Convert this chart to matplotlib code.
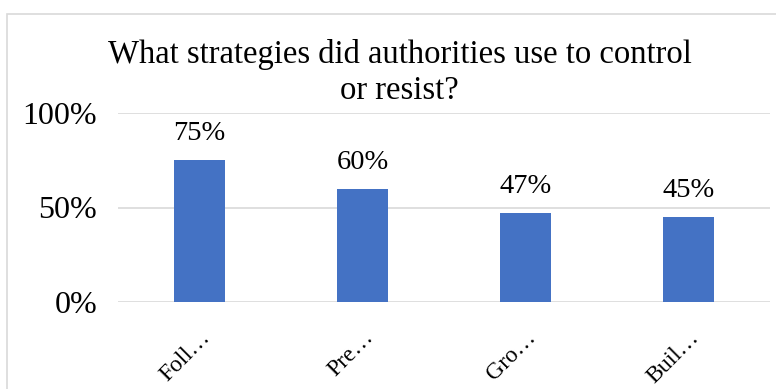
import matplotlib
matplotlib.use('Agg')
import matplotlib.pyplot as plt
from matplotlib.patches import Rectangle
from matplotlib.ticker import FuncFormatter

categories = ['Foll…', 'Pre…', 'Gro…', 'Buil…']
values = [0.75, 0.60, 0.47, 0.45]
value_labels = ['75%', '60%', '47%', '45%']
yticks = [0, 0.5, 1.0]

plt.rcParams['font.family'] = ['Liberation Serif', 'DejaVu Serif']

fig = plt.figure(figsize=(7.76, 3.89), dpi=100)
ax = fig.add_axes([118 / 776, 1 - 302 / 389, (770 - 118) / 776, (302 - 113) / 389])

# chart border (outer frame, cut off on right and bottom)
fig.patches.append(Rectangle((7 / 776, -0.1), 1.2, 1 - 14 / 389 + 0.1,
                             transform=fig.transFigure, fill=False,
                             edgecolor='#D9D9D9', linewidth=1.2))

x = range(len(categories))
ax.bar(x, values, width=0.31, color='#4472C4', zorder=3)
for xi, v, lab in zip(x, values, value_labels):
    ax.text(xi, v + 0.105, lab, ha='center', va='baseline', fontsize=20.5, color='#000000')

ax.set_xlim(-0.5, len(categories) - 0.5)
ax.set_ylim(0, 1.0)
ax.set_yticks(yticks)
ax.yaxis.set_major_formatter(FuncFormatter(lambda v, p: f'{v:.0%}'))
ax.grid(axis='y', color='#D9D9D9', linewidth=1.2, zorder=0)
for s in ax.spines.values():
    s.set_visible(False)
ax.tick_params(axis='both', length=0)
ax.tick_params(axis='y', labelsize=23, pad=15)
ax.set_xticks(list(x))
ax.set_xticklabels(categories, rotation=45, ha='right', rotation_mode='anchor', fontsize=17)
ax.tick_params(axis='x', pad=18)

fig.text(0.515, 1 - 63 / 389, 'What strategies did authorities use to control',
         ha='center', va='baseline', fontsize=23.5)
fig.text(0.515, 1 - 99 / 389, 'or resist?', ha='center', va='baseline', fontsize=23.5)

fig.savefig('out.png', dpi=100)
